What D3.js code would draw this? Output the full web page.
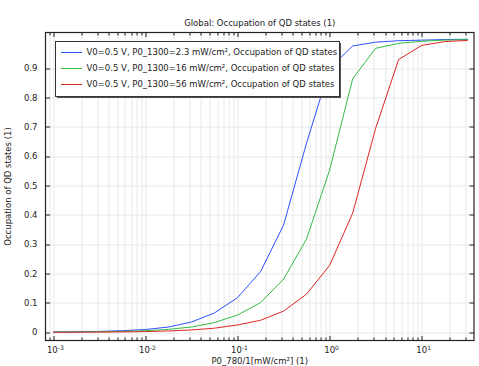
<!DOCTYPE html>
<html>
<head>
  <title>Occupation of QD states</title>
  <script src="https://d3js.org/d3.v7.min.js"></script>
  <meta charset="utf-8">
  <style>
    body { margin: 0; background: #fff; }
    text { font-family: "DejaVu Sans", sans-serif; fill: #222; }
  </style>
</head>
<body>
<svg class="svgchart" width="479" height="366"></svg>

<script>

// light intensity P0_780 (mW/cm^2)
var power = [0.001, 0.00178, 0.00316, 0.00562, 0.01, 0.0178, 0.0316, 0.0562, 0.1,
             0.178, 0.316, 0.562, 1, 1.78, 3.16, 5.62, 10, 17.8, 31.6];

var occ23 = [0.001, 0.0018, 0.003, 0.0055, 0.0095, 0.018, 0.035, 0.066, 0.118,
             0.207, 0.365, 0.645, 0.9, 0.976, 0.989, 0.994, 0.996, 0.998, 0.999];
var occ16 = [0.0005, 0.001, 0.0017, 0.003, 0.0055, 0.010, 0.018, 0.033, 0.059,
             0.101, 0.181, 0.318, 0.553, 0.864, 0.968, 0.985, 0.992, 0.996, 0.998];
var occ56 = [0.0002, 0.0004, 0.0007, 0.0013, 0.0024, 0.0045, 0.008, 0.014, 0.025,
             0.041, 0.072, 0.13, 0.228, 0.406, 0.695, 0.930, 0.978, 0.991, 0.995];

var seriesNames = ["2.3", "16", "56"];
var seriesColors = ["#2f50ff", "#33bb44", "#dd2626"];
var seriesValues = [occ23, occ16, occ56];

var yTicks = [0, 0.1, 0.2, 0.3, 0.4, 0.5, 0.6, 0.7, 0.8, 0.9];
var xMajor = [1e-3, 1e-2, 1e-1, 1e0, 1e1];
var xExp = ["-3", "-2", "-1", "0", "1"];

var margin = {top: 32.5, right: 5, bottom: 25.5, left: 45.5},
    width = 479 - margin.left - margin.right,
    height = 366 - margin.top - margin.bottom;

var svg = d3.select(".svgchart");

var x = d3.scaleLog()
    .domain([Math.pow(10, -3.085), Math.pow(10, 1.568)])
    .range([0, width]);

var y = d3.scaleLinear()
    .domain([-0.028, 1.022])
    .range([height, 0]);

var chart = svg.append("g")
    .attr("transform", "translate(" + margin.left + "," + margin.top + ")");

// minor ticks, 2..9 in each decade
var xMinor = [];
x.ticks().forEach(function(t) {
  if (xMajor.indexOf(t) < 0) xMinor.push(t);
});

// grid
chart.append("g").selectAll("line")
    .data(xMajor.concat(xMinor))
  .enter().append("line")
    .attr("x1", function(d) { return Math.round(x(d)) + 0.5; })
    .attr("x2", function(d) { return Math.round(x(d)) + 0.5; })
    .attr("y1", 0)
    .attr("y2", height)
    .attr("stroke", "#e8e8e8");

chart.append("g").selectAll("line")
    .data(yTicks)
  .enter().append("line")
    .attr("x1", 0)
    .attr("x2", width)
    .attr("y1", function(d) { return Math.round(y(d)) + 0.5; })
    .attr("y2", function(d) { return Math.round(y(d)) + 0.5; })
    .attr("stroke", "#e8e8e8");

// curves
var line = d3.line()
    .x(function(d) { return x(d[0]); })
    .y(function(d) { return y(d[1]); });

seriesValues.forEach(function(vals, i) {
  chart.append("path")
      .datum(power.map(function(p, j) { return [p, vals[j]]; }))
      .attr("fill", "none")
      .attr("stroke", seriesColors[i])
      .attr("stroke-width", 1)
      .attr("d", line);
});

// axes with inward ticks on all sides
function xTicks(g, sign) {
  g.selectAll(".maj").data(xMajor).enter().append("line")
      .attr("x1", function(d) { return Math.round(x(d)) + 0.5; })
      .attr("x2", function(d) { return Math.round(x(d)) + 0.5; })
      .attr("y1", 0).attr("y2", 4.5 * sign)
      .attr("stroke", "#222");
  g.selectAll(".min").data(xMinor).enter().append("line")
      .attr("x1", function(d) { return Math.round(x(d)) + 0.5; })
      .attr("x2", function(d) { return Math.round(x(d)) + 0.5; })
      .attr("y1", 0).attr("y2", 3 * sign)
      .attr("stroke", "#222");
}
function yTickMarks(g, sign) {
  g.selectAll("line").data(yTicks).enter().append("line")
      .attr("y1", function(d) { return Math.round(y(d)) + 0.5; })
      .attr("y2", function(d) { return Math.round(y(d)) + 0.5; })
      .attr("x1", 0).attr("x2", 4.5 * sign)
      .attr("stroke", "#222");
}

xTicks(chart.append("g").attr("transform", "translate(0," + height + ")"), -1);
xTicks(chart.append("g"), 1);
yTickMarks(chart.append("g"), 1);
yTickMarks(chart.append("g").attr("transform", "translate(" + width + ",0)"), -1);

chart.append("rect")
    .attr("width", width)
    .attr("height", height)
    .attr("fill", "none")
    .attr("stroke", "#222")
    .attr("stroke-width", 1.2);

// tick labels
chart.selectAll(".ylab")
    .data(yTicks)
  .enter().append("text")
    .attr("x", -8)
    .attr("y", function(d) { return y(d); })
    .attr("dy", "0.35em")
    .attr("text-anchor", "end")
    .style("font-size", "8.5px")
    .text(function(d) { return d === 0 ? "0" : d3.format(".1f")(d); });

var xl = chart.selectAll(".xlab")
    .data(xMajor)
  .enter().append("text")
    .attr("x", function(d) { return x(d) + 2; })
    .attr("y", height + 12.5)
    .attr("text-anchor", "middle")
    .style("font-size", "8.5px");
xl.append("tspan").text("10");
xl.append("tspan")
    .attr("dy", "-0.45em")
    .style("font-size", "6px")
    .text(function(d, i) { return xExp[i]; });

// titles
svg.append("text")
    .attr("x", margin.left + width / 2)
    .attr("y", 26)
    .attr("text-anchor", "middle")
    .style("font-size", "8.5px")
    .text("Global: Occupation of QD states (1)");

svg.append("text")
    .attr("x", margin.left + width / 2)
    .attr("y", 363.5)
    .attr("text-anchor", "middle")
    .style("font-size", "8.5px")
    .text("P0_780/1[mW/cm\u00b2] (1)");

svg.append("text")
    .attr("transform", "translate(10.5," + (margin.top + height / 2) + ") rotate(-90)")
    .attr("text-anchor", "middle")
    .style("font-size", "8.5px")
    .text("Occupation of QD states (1)");

// legend
var legend = svg.append("g").attr("transform", "translate(55.5,41.5)");
legend.append("rect")
    .attr("x", 1.5).attr("y", 1.5)
    .attr("width", 284).attr("height", 55)
    .attr("fill", "#555");
legend.append("rect")
    .attr("width", 284).attr("height", 55)
    .attr("fill", "#fff")
    .attr("stroke", "#333");

seriesNames.forEach(function(name, i) {
  var row = legend.append("g").attr("transform", "translate(0," + (11 + i * 16) + ")");
  row.append("line")
      .attr("x1", 5.5).attr("x2", 26.5)
      .attr("stroke", seriesColors[i]);
  row.append("text")
      .attr("x", 31)
      .attr("dy", "0.35em")
      .style("font-size", "8.5px")
      .text("V0=0.5 V, P0_1300=" + name + " mW/cm\u00b2, Occupation of QD states");
});

</script>
</body></html>
